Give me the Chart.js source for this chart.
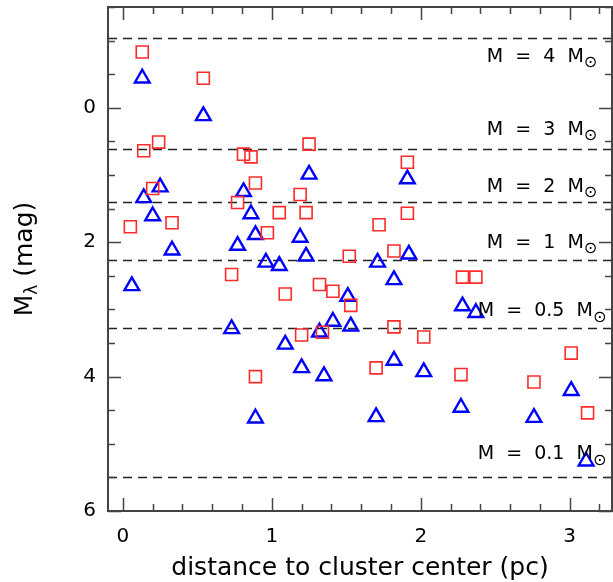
<!DOCTYPE html>
<html>
<head>
<meta charset="utf-8">
<script src="https://cdn.jsdelivr.net/npm/chart.js@4.4.1/dist/chart.umd.min.js"></script>
<style>
  html, body { margin: 0; padding: 0; background: #fff; overflow: hidden; }
</style>
</head>
<body>
<canvas id="chart" width="613" height="582"></canvas>
<script>
// red squares
const squareX = [0.13, 0.54, 0.14, 0.24, 0.81, 0.86, 1.25, 0.89, 0.20, 1.19, 0.77, 0.05, 0.33, 1.05, 1.23, 0.97, 1.52,
  0.73, 1.09, 1.32, 1.41, 1.53, 1.34, 1.20, 0.89,
  1.91, 1.91, 1.72, 1.82,
  2.28, 2.37, 1.82, 2.02, 1.70, 2.27, 3.01, 2.76, 3.12]
const squareY = [-0.83, -0.44, 0.64, 0.51, 0.69, 0.73, 0.54, 1.12, 1.20, 1.29, 1.41, 1.77, 1.71, 1.56, 1.56, 1.86, 2.21,
  2.48, 2.77, 2.63, 2.73, 2.94, 3.34, 3.38, 4.00,
  0.81, 1.57, 1.74, 2.13,
  2.52, 2.52, 3.26, 3.41, 3.87, 3.97, 3.65, 4.08, 4.54]

// blue triangles
const triangleX = [0.13, 0.54, 1.25, 0.25, 0.14, 0.81, 0.20, 0.86, 0.89, 1.19, 0.77, 0.33, 1.23, 0.96, 1.05,
  0.06, 1.51, 1.41, 1.53, 0.73, 1.32, 1.09, 1.20, 1.35, 0.89,
  1.91, 1.92,
  1.71, 1.82, 2.28, 2.37, 1.82, 2.02, 2.27, 1.70, 3.01, 2.76, 3.11]
const triangleY = [-0.44, 0.12, 0.99, 1.18, 1.34, 1.25, 1.61, 1.58, 1.89, 1.93, 2.05, 2.12, 2.21, 2.30, 2.35,
  2.65, 2.81, 3.18, 3.25, 3.29, 3.34, 3.52, 3.87, 3.99, 4.62,
  1.06, 2.18,
  2.30, 2.56, 2.95, 3.05, 3.76, 3.93, 4.46, 4.60, 4.21, 4.61, 5.26]

// mass tracks (magnitude) and their labels
const massLines = [-1.04, 0.61, 1.40, 2.27, 3.28, 5.50]
const massLabels = ["4", "3", "2", "1", "0.5", "0.1"]
const massLabelMag = [-0.76, 0.33, 1.18, 2.01, 3.03, 5.16]

const xTicks = [0, 1, 2, 3]
const yTicks = [0, 2, 4, 6]

const FONT = "'DejaVu Sans', sans-serif"
const AXIS = "#444"

// keep the plot box where it is, no extra room for tick labels
const noPad = s => { s.paddingTop = 0; s.paddingBottom = 0; s.paddingLeft = 0; s.paddingRight = 0 }

const decorPlugin = {
  id: "decor",
  beforeDatasetsDraw(chart) {
    const { ctx, chartArea: a, scales: { y } } = chart
    ctx.save()
    ctx.strokeStyle = "#222"
    ctx.lineWidth = 1.6
    ctx.setLineDash([9, 6])
    massLines.forEach(m => {
      const py = Math.round(y.getPixelForValue(m)) + 0.5
      ctx.beginPath()
      ctx.moveTo(a.left, py)
      ctx.lineTo(a.right, py)
      ctx.stroke()
    })
    ctx.restore()
  },
  afterDraw(chart) {
    const { ctx, chartArea: a, scales: { x, y } } = chart
    ctx.save()

    // frame
    ctx.strokeStyle = AXIS
    ctx.lineWidth = 2
    ctx.strokeRect(a.left, a.top, a.right - a.left, a.bottom - a.top)

    // tick marks on all four sides
    ctx.lineWidth = 1.5
    ctx.beginPath()
    for (let i = 0; i <= 16; i++) {
      const v = i * 0.2
      const px = Math.round(x.getPixelForValue(v)) + 0.5
      const len = i % 5 === 0 ? 13 : 7
      ctx.moveTo(px, a.bottom); ctx.lineTo(px, a.bottom - len)
      ctx.moveTo(px, a.top); ctx.lineTo(px, a.top + len)
    }
    for (let i = -3; i <= 12; i++) {
      const v = i * 0.5
      const py = Math.round(y.getPixelForValue(v)) + 0.5
      const len = i % 4 === 0 ? 13 : 7
      ctx.moveTo(a.left, py); ctx.lineTo(a.left + len, py)
      ctx.moveTo(a.right, py); ctx.lineTo(a.right - len, py)
    }
    ctx.stroke()

    // mass labels
    ctx.fillStyle = "#000"
    ctx.textBaseline = "middle"
    massLabels.forEach((lab, i) => {
      const py = y.getPixelForValue(massLabelMag[i])
      const main = "M  =  " + lab + "  M"
      ctx.font = "19px " + FONT
      const w1 = ctx.measureText(main).width
      ctx.font = "16px " + FONT
      const w2 = ctx.measureText("\u2299").width
      const start = 542 - (w1 + w2) / 2
      ctx.font = "19px " + FONT
      ctx.textAlign = "left"
      ctx.fillText(main, start, py)
      ctx.font = "16px " + FONT
      ctx.fillText("\u2299", start + w1, py + 6)
    })

    // x title
    ctx.textBaseline = "alphabetic"
    ctx.textAlign = "center"
    ctx.font = "25px " + FONT
    ctx.fillText("distance to cluster center (pc)", (a.left + a.right) / 2, 575)

    // y title with subscript
    ctx.translate(32, (a.top + a.bottom) / 2)
    ctx.rotate(-Math.PI / 2)
    ctx.font = "25px " + FONT
    const wM = ctx.measureText("M").width
    ctx.font = "17px " + FONT
    const wL = ctx.measureText("\u03bb").width
    ctx.font = "25px " + FONT
    const wR = ctx.measureText(" (mag)").width
    let sx = -(wM + wL + wR) / 2
    ctx.textAlign = "left"
    ctx.fillText("M", sx, 0)
    sx += wM
    ctx.font = "17px " + FONT
    ctx.fillText("\u03bb", sx, 5)
    sx += wL
    ctx.font = "25px " + FONT
    ctx.fillText(" (mag)", sx, 0)

    ctx.restore()
  }
}

new Chart(document.getElementById("chart"), {
  type: "scatter",
  data: {
    datasets: [
      {
        label: "squares",
        data: squareX.map((v, i) => ({ x: v, y: squareY[i] })),
        pointStyle: "rect",
        radius: 8.5,
        borderColor: "#ff2a2a",
        backgroundColor: "rgba(0,0,0,0)",
        borderWidth: 1.6
      },
      {
        label: "triangles",
        data: triangleX.map((v, i) => ({ x: v, y: triangleY[i] })),
        pointStyle: "triangle",
        radius: 8.5,
        borderColor: "#0000ff",
        backgroundColor: "rgba(0,0,0,0)",
        borderWidth: 2.4
      }
    ]
  },
  options: {
    responsive: false,
    animation: false,
    devicePixelRatio: 1,
    layout: { autoPadding: false, padding: { top: 7, right: 1, left: 0, bottom: 0 } },
    plugins: { legend: { display: false }, tooltip: { enabled: false } },
    scales: {
      x: {
        type: "linear",
        min: -0.1,
        max: 3.284,
        grid: { display: false, drawTicks: false },
        border: { display: false },
        afterBuildTicks: s => { s.ticks = xTicks.map(v => ({ value: v })) },
        afterFit: s => { s.height = 71; noPad(s) },
        ticks: { font: { family: FONT, size: 20 }, color: "#000", padding: 14, maxRotation: 0, autoSkip: false }
      },
      y: {
        type: "linear",
        reverse: true,
        min: -1.5,
        max: 6,
        grid: { display: false, drawTicks: false },
        border: { display: false },
        afterBuildTicks: s => { s.ticks = yTicks.map(v => ({ value: v })) },
        afterFit: s => { s.width = 108; noPad(s) },
        ticks: { font: { family: FONT, size: 20 }, color: "#000", padding: 12, autoSkip: false }
      }
    }
  },
  plugins: [decorPlugin]
})
</script>
</body>
</html>
